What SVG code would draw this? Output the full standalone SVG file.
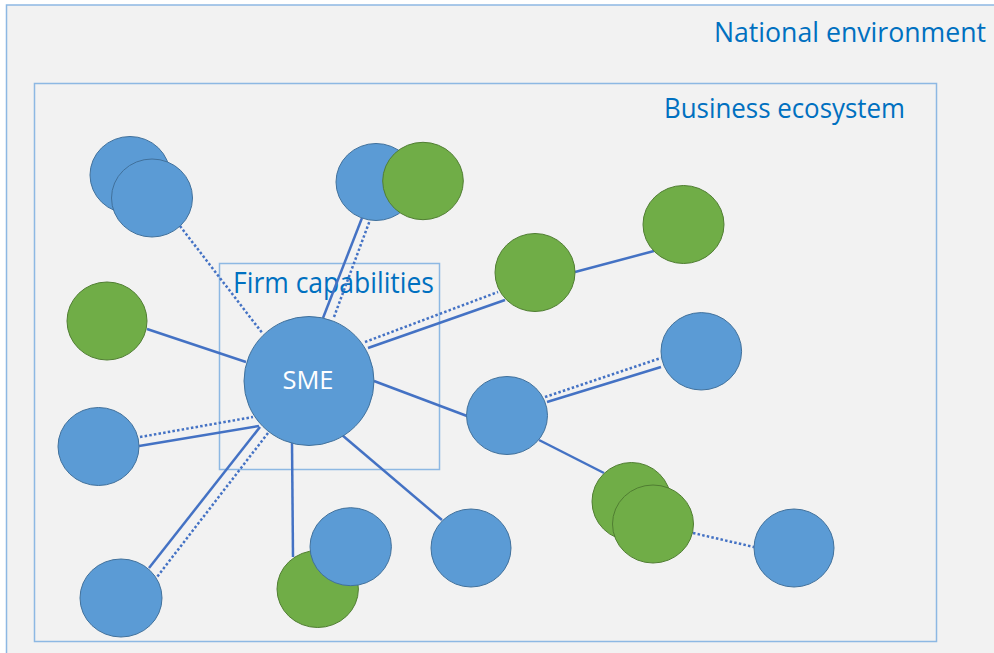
<svg xmlns="http://www.w3.org/2000/svg" width="994" height="653" viewBox="0 0 994 653">
<style>
.frame{fill:#f2f2f2;stroke:#8db8e3;stroke-width:1.5}
.inner{fill:none;stroke:#8db8e3;stroke-width:1.5}
.lbl{font-family:"Open Sans","Noto Sans",sans-serif;fill:#0070c0}
.blue{fill:#5b9bd5;stroke:#41719c;stroke-width:1}
.green{fill:#70ad47;stroke:#507e32;stroke-width:1}
.s{stroke:#4472c4;stroke-width:2.5;fill:none}
.d{stroke:#4472c4;stroke-width:2.5;fill:none;stroke-dasharray:2.5 2.2}
</style>
<rect width="994" height="653" fill="#ffffff"/>
<rect id="national-environment" class="frame" x="6.5" y="5" width="1000" height="660"/>
<text class="lbl" x="714" y="42" font-size="27" textLength="272" lengthAdjust="spacingAndGlyphs">National environment</text>
<g id="business-ecosystem">
<rect class="inner" x="34.5" y="83.5" width="902" height="558"/>
<text class="lbl" x="664" y="118" font-size="28" textLength="241" lengthAdjust="spacingAndGlyphs">Business ecosystem</text>
</g>
<g id="firm-capabilities">
<rect class="inner" x="219.5" y="263.5" width="220" height="206"/>
<text class="lbl" x="233" y="293" font-size="29" textLength="201" lengthAdjust="spacingAndGlyphs">Firm capabilities</text>
</g>
<g id="connectors">
<line class="d" x1="180" y1="226" x2="263" y2="334"/>
<line class="s" x1="323" y1="318" x2="362" y2="218"/>
<line class="d" x1="334" y1="317" x2="370" y2="220"/>
<line class="d" x1="365" y1="342" x2="498" y2="292"/>
<line class="s" x1="368" y1="348" x2="505" y2="300"/>
<line class="s" x1="575" y1="272" x2="654" y2="251"/>
<line class="s" x1="147" y1="329" x2="246" y2="362"/>
<line class="s" x1="374" y1="381" x2="467" y2="416"/>
<line class="d" x1="545" y1="397" x2="661" y2="358"/>
<line class="s" x1="547" y1="402" x2="661" y2="367"/>
<line class="s" x1="539" y1="440" x2="604" y2="473"/>
<line class="d" x1="693" y1="533" x2="754" y2="547"/>
<line class="d" x1="140" y1="437" x2="253" y2="417"/>
<line class="s" x1="139" y1="446" x2="259" y2="426"/>
<line class="s" x1="260" y1="427" x2="149" y2="568"/>
<line class="d" x1="268" y1="433" x2="157" y2="577"/>
<line class="s" x1="292" y1="442" x2="293" y2="557"/>
<line class="s" x1="342" y1="435" x2="442" y2="520"/>
</g>
<g id="node-blue-tl-back"><ellipse class="blue" cx="130" cy="175" rx="40" ry="38.5"/></g>
<g id="node-blue-tl-front"><ellipse class="blue" cx="152" cy="198" rx="40.5" ry="39"/></g>
<g id="node-blue-top"><ellipse class="blue" cx="376" cy="182" rx="40" ry="38.5"/></g>
<g id="node-green-top"><ellipse class="green" cx="423" cy="181" rx="40.3" ry="38.7"/></g>
<g id="node-green-left"><ellipse class="green" cx="107" cy="321" rx="40" ry="39"/></g>
<g id="node-blue-left"><ellipse class="blue" cx="98.5" cy="446.5" rx="40.5" ry="39"/></g>
<g id="node-blue-bl"><ellipse class="blue" cx="121" cy="598" rx="41" ry="39"/></g>
<g id="node-green-bottom"><ellipse class="green" cx="317.7" cy="589" rx="40.7" ry="38.5"/></g>
<g id="node-blue-bottom-front"><ellipse class="blue" cx="350.7" cy="546.7" rx="40.7" ry="39"/></g>
<g id="node-blue-bottom"><ellipse class="blue" cx="471" cy="548" rx="40" ry="39"/></g>
<g id="node-blue-mid"><ellipse class="blue" cx="507" cy="415.5" rx="40.5" ry="39"/></g>
<g id="node-green-br-back"><ellipse class="green" cx="631.5" cy="501.5" rx="39.5" ry="39"/></g>
<g id="node-green-br-front"><ellipse class="green" cx="653" cy="524" rx="40.5" ry="39"/></g>
<g id="node-blue-br"><ellipse class="blue" cx="794" cy="548" rx="40" ry="39"/></g>
<g id="node-green-mid"><ellipse class="green" cx="535" cy="272.5" rx="40" ry="39"/></g>
<g id="node-green-tr"><ellipse class="green" cx="683.5" cy="224.5" rx="40.5" ry="39"/></g>
<g id="node-blue-right"><ellipse class="blue" cx="701.3" cy="351.3" rx="40.3" ry="38.7"/></g>
<g id="node-sme">
<ellipse class="blue" cx="309" cy="381" rx="65" ry="64.5"/>
<text x="308" y="389" font-family="Open Sans, Noto Sans, sans-serif" font-size="25" fill="#ffffff" text-anchor="middle" textLength="51" lengthAdjust="spacingAndGlyphs">SME</text>
</g>
</svg>
